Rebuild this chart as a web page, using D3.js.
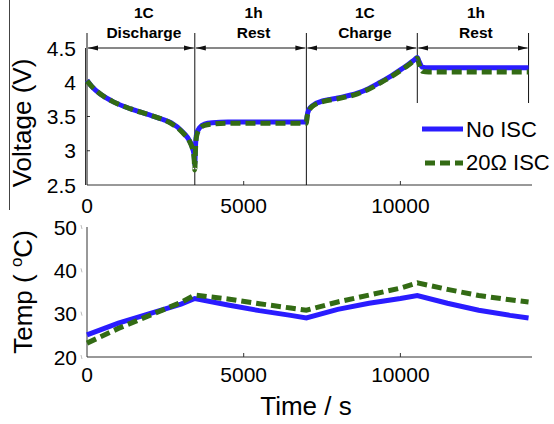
<!DOCTYPE html>
<html>
<head>
<meta charset="utf-8">
<script src="https://cdn.jsdelivr.net/npm/d3@7"></script>
<style>
  body { margin: 0; background: #fff; }
  svg { display: block; font-family: "Liberation Sans", Arial, sans-serif; }
</style>
</head>
<body>
<svg width="554" height="424"></svg>
<script>
// voltage curves (time in s)
var timeV = [0, 150, 450, 860, 1400, 1940, 2400, 2680, 3060, 3290, 3380, 3420, 3440,
  3460, 3500, 3600, 3750, 4000, 4500, 5500, 6500, 7000,
  7020, 7080, 7200, 7550, 8000, 8630, 9000, 9360, 9700, 10000, 10250, 10450, 10540,
  10600, 10700, 10900, 12000, 13000, 14090];
var voltNoIsc = [4.03, 3.94, 3.82, 3.71, 3.61, 3.53, 3.46, 3.41, 3.27, 3.13, 3.02, 2.92, 2.80,
  3.05, 3.25, 3.34, 3.39, 3.41, 3.42, 3.42, 3.42, 3.42,
  3.50, 3.60, 3.66, 3.73, 3.77, 3.84, 3.91, 4.00, 4.09, 4.18, 4.26, 4.33, 4.36,
  4.30, 4.22, 4.21, 4.21, 4.21, 4.21];
var voltIsc = [4.02, 3.94, 3.82, 3.71, 3.61, 3.53, 3.46, 3.40, 3.26, 3.12, 3.00, 2.88, 2.72,
  3.00, 3.22, 3.32, 3.37, 3.39, 3.40, 3.40, 3.40, 3.40,
  3.48, 3.58, 3.65, 3.72, 3.76, 3.83, 3.90, 3.99, 4.08, 4.17, 4.25, 4.32, 4.35,
  4.26, 4.16, 4.15, 4.15, 4.15, 4.15];

// temperature curves
var timeT = [0, 1000, 2000, 3000, 3440, 4500, 5500, 6500, 7000, 8000, 9000, 10000, 10540, 11500, 12500, 13500, 14090];
var tempNoIsc = [25.1, 27.8, 30.0, 32.2, 33.5, 32.0, 30.7, 29.6, 29.0, 31.0, 32.4, 33.5, 34.2, 32.4, 30.8, 29.6, 29.0];
var tempIsc = [23.2, 26.6, 29.6, 32.6, 34.3, 33.4, 32.3, 31.3, 30.8, 32.7, 34.3, 35.9, 37.1, 35.6, 34.2, 33.2, 32.7];

// phases
var phaseBounds = [0, 3440, 7000, 10540, 14090];
var phaseTop = ["1C", "1h", "1C", "1h"];
var phaseBottom = ["Discharge", "Rest", "Charge", "Rest"];

var xTicks = [0, 5000, 10000];
var vTicks = [2.5, 3, 3.5, 4, 4.5];
var tTicks = [20, 30, 40, 50];

var seriesNames = ["No ISC", "20\u03A9 ISC"];
var blue = "#2a1cff", green = "#336b14";

var svg = d3.select("svg");

var x = d3.scaleLinear().domain([0, 14200]).range([87, 532]);
var yV = d3.scaleLinear().domain([2.5, 4.5]).range([185, 48]);
var yT = d3.scaleLinear().domain([20, 50]).range([357, 227]);

// panel edge line on the far left
svg.append("line").attr("x1", 9.5).attr("x2", 9.5).attr("y1", 0).attr("y2", 210)
  .attr("stroke", "#444").attr("stroke-width", 1);

// ---------- voltage panel ----------
var gTop = svg.append("g");

gTop.append("line").attr("x1", x(0)).attr("x2", x(14200)).attr("y1", yV(2.5)).attr("y2", yV(2.5))
  .attr("stroke", "#333");
gTop.append("line").attr("x1", x(0) - 1.5).attr("x2", x(0) - 1.5).attr("y1", yV(4.5)).attr("y2", yV(2.5))
  .attr("stroke", "#333");

gTop.selectAll(".xt").data(xTicks.slice(1)).enter().append("line")
  .attr("x1", function(d) { return x(d); }).attr("x2", function(d) { return x(d); })
  .attr("y1", yV(2.5)).attr("y2", yV(2.5) - 4).attr("stroke", "#333");
gTop.selectAll(".yt").data(vTicks.slice(1, -1)).enter().append("line")
  .attr("x1", x(0)).attr("x2", x(0) + 3)
  .attr("y1", function(d) { return yV(d); }).attr("y2", function(d) { return yV(d); })
  .attr("stroke", "#333");

gTop.selectAll(".xl").data(xTicks).enter().append("text")
  .attr("x", function(d) { return x(d); }).attr("y", 213)
  .attr("text-anchor", "middle").attr("font-size", 21).text(function(d) { return d; });
gTop.selectAll(".yl").data(vTicks).enter().append("text")
  .attr("x", 76).attr("y", function(d) { return yV(d) + 7.5; })
  .attr("text-anchor", "end").attr("font-size", 21).text(function(d) { return d; });

gTop.append("text").attr("transform", "translate(31,123) rotate(-90)")
  .attr("text-anchor", "middle").attr("font-size", 26).text("Voltage (V)");

// phase boundaries, arrows, labels
var defs = svg.append("defs");
defs.append("marker").attr("id", "ah").attr("viewBox", "0 0 10 6")
  .attr("refX", 10).attr("refY", 3).attr("markerWidth", 10).attr("markerHeight", 6)
  .attr("markerUnits", "userSpaceOnUse").attr("orient", "auto-start-reverse")
  .append("path").attr("d", "M0,0.5L10,3L0,5.5Z").attr("fill", "#111");

gTop.selectAll(".pb").data(phaseBounds).enter().append("line")
  .attr("x1", function(d) { return x(d); }).attr("x2", function(d) { return x(d); })
  .attr("y1", 33).attr("y2", function(d, i) { return i >= 3 ? 103 : yV(2.5); })
  .attr("stroke", "#111").attr("stroke-width", 1);

var phases = d3.range(phaseTop.length);
gTop.selectAll(".ar").data(phases).enter().append("line")
  .attr("x1", function(i) { return x(phaseBounds[i]) + 1; })
  .attr("x2", function(i) { return x(phaseBounds[i + 1]) - 1; })
  .attr("y1", yV(4.5)).attr("y2", yV(4.5))
  .attr("stroke", "#111").attr("stroke-width", 1)
  .attr("marker-start", "url(#ah)").attr("marker-end", "url(#ah)");

gTop.selectAll(".pl1").data(phases).enter().append("text")
  .attr("x", function(i) { return (x(phaseBounds[i]) + x(phaseBounds[i + 1])) / 2 + 3; })
  .attr("y", 18).attr("text-anchor", "middle").attr("font-size", 15.5).attr("font-weight", "bold")
  .text(function(i) { return phaseTop[i]; });
gTop.selectAll(".pl2").data(phases).enter().append("text")
  .attr("x", function(i) { return (x(phaseBounds[i]) + x(phaseBounds[i + 1])) / 2 + 3; })
  .attr("y", 37.5).attr("text-anchor", "middle").attr("font-size", 15.5).attr("font-weight", "bold")
  .text(function(i) { return phaseBottom[i]; });

var lineV = d3.line().curve(d3.curveMonotoneX)
  .x(function(d) { return x(d[0]); }).y(function(d) { return yV(d[1]); });

gTop.append("path").datum(d3.zip(timeV, voltNoIsc)).attr("d", lineV)
  .attr("fill", "none").attr("stroke", blue).attr("stroke-width", 5);
gTop.append("path").datum(d3.zip(timeV, voltIsc)).attr("d", lineV)
  .attr("fill", "none").attr("stroke", green).attr("stroke-width", 5)
  .attr("stroke-dasharray", "10,5");

// legend
var legend = gTop.append("g");
legend.append("line").attr("x1", 422).attr("x2", 463).attr("y1", 129).attr("y2", 129)
  .attr("stroke", blue).attr("stroke-width", 5);
legend.append("line").attr("x1", 425).attr("x2", 463).attr("y1", 163).attr("y2", 163)
  .attr("stroke", green).attr("stroke-width", 5).attr("stroke-dasharray", "10,5");
legend.selectAll("text").data(seriesNames).enter().append("text")
  .attr("x", 466).attr("y", function(d, i) { return i ? 170 : 137; })
  .attr("font-size", 22).text(function(d) { return d; });

// ---------- temperature panel ----------
var gBot = svg.append("g");

gBot.append("line").attr("x1", x(0)).attr("x2", x(14200)).attr("y1", yT(20)).attr("y2", yT(20))
  .attr("stroke", "#333");
gBot.append("line").attr("x1", x(0)).attr("x2", x(0)).attr("y1", yT(50)).attr("y2", yT(20))
  .attr("stroke", "#333");

gBot.selectAll(".xt").data(xTicks.slice(1)).enter().append("line")
  .attr("x1", function(d) { return x(d); }).attr("x2", function(d) { return x(d); })
  .attr("y1", yT(20)).attr("y2", yT(20) - 4).attr("stroke", "#333");
gBot.selectAll(".yt").data(tTicks).enter().append("line")
  .attr("x1", x(0) - 6).attr("x2", x(0) - 5)
  .attr("y1", function(d) { return yT(d) - 2; }).attr("y2", function(d) { return yT(d) + 2; })
  .attr("stroke", "#bbb");

gBot.selectAll(".xl").data(xTicks).enter().append("text")
  .attr("x", function(d) { return x(d); }).attr("y", 382)
  .attr("text-anchor", "middle").attr("font-size", 21).text(function(d) { return d; });
gBot.selectAll(".yl").data(tTicks).enter().append("text")
  .attr("x", 77).attr("y", function(d) { return yT(d) + 7.5; })
  .attr("text-anchor", "end").attr("font-size", 21).text(function(d) { return d; });

var tl = gBot.append("text").attr("transform", "translate(32,292) rotate(-90)")
  .attr("text-anchor", "middle").attr("font-size", 26);
tl.append("tspan").text("Temp ( ");
tl.append("tspan").attr("font-size", 17).attr("dy", -10).text("o");
tl.append("tspan").attr("dy", 10).text("C)");

gBot.append("text").attr("x", 306).attr("y", 415).attr("text-anchor", "middle")
  .attr("font-size", 26).text("Time / s");

var lineT = d3.line()
  .x(function(d) { return x(d[0]); })
  .y(function(d) { return yT(d[1]); });

gBot.append("path").datum(d3.zip(timeT, tempNoIsc)).attr("d", lineT)
  .attr("fill", "none").attr("stroke", blue).attr("stroke-width", 5);
gBot.append("path").datum(d3.zip(timeT, tempIsc)).attr("d", lineT)
  .attr("fill", "none").attr("stroke", green).attr("stroke-width", 5)
  .attr("stroke-dasharray", "10,5");
</script>
</body>
</html>
